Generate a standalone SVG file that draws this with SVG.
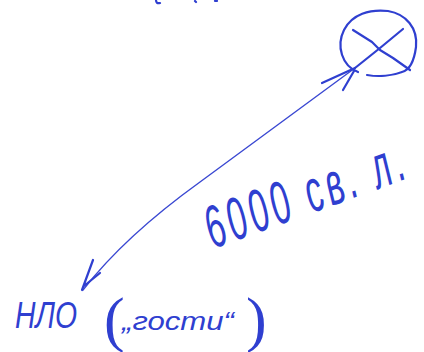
<svg xmlns="http://www.w3.org/2000/svg" width="424" height="352" viewBox="0 0 424 352">
<style>
.ink{fill:none;stroke:#2f3fd0;stroke-width:2.2;stroke-linecap:round;stroke-linejoin:round}
.thin{fill:none;stroke:#3a48d2;stroke-width:1.4;stroke-linecap:round}
.t{fill:#2f3fd0;font-family:"Liberation Sans","DejaVu Sans",sans-serif;font-style:italic}
.p{font-family:"Liberation Serif","DejaVu Serif",serif;font-style:normal}
</style>
<rect width="424" height="352" fill="#ffffff"/>
<g id="top-fragments">
<path class="ink" d="M156 0 Q156 4 160 3"/>
<path class="ink" d="M195 1 L196 2"/>
<path class="ink" d="M215 1 L217 1"/>
</g>
<g id="target">
<path class="ink" d="M358 72 C342 66 336 46 344 30 C352 14 370 9 388 11 C406 14 418 28 416 47 C414 62 410 70 402 72 C392 76 378 77 367 75"/>
<path class="ink" d="M353 30 L372 42 L380 50 L393 58 L410 70"/>
<path class="ink" d="M403 29 L380 48 L355 68"/>
</g>
<g id="connectors">
<path class="thin" d="M355 68 L200 182 Q125 236 83 290"/>
<path class="ink" d="M322 83 L355 68 M343 90 L354 71"/>
<path class="ink" d="M93 260 L82 290 M100 273 L84 286"/>
</g>
<g id="distance">
<g transform="translate(213 249) rotate(-20) scale(0.56 1)">
<text class="t" x="0" y="0" font-size="60" textLength="372" lengthAdjust="spacing">6000 св. л.</text>
</g>
</g>
<g id="ufo">
<text class="t" x="15" y="328" font-size="36"><tspan textLength="62" lengthAdjust="spacingAndGlyphs">НЛО</tspan><tspan class="p" x="104" y="340" font-size="62">(</tspan><tspan x="122" y="330" font-size="26" textLength="112" lengthAdjust="spacingAndGlyphs">„гости“</tspan><tspan class="p" x="246" y="340" font-size="62">)</tspan></text>
</g>
</svg>
